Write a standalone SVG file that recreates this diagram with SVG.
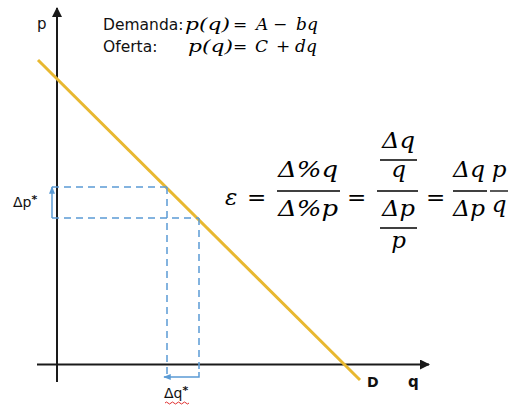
<svg xmlns="http://www.w3.org/2000/svg" width="517" height="408" viewBox="0 0 517 408">
<style>
.axis{stroke:#1a1a1a;stroke-width:2;fill:none}
.dash{stroke:#5b9bd5;stroke-width:1.5;stroke-dasharray:7 5;fill:none}
.blue{stroke:#5b9bd5;stroke-width:1.5;fill:none}
.lab{font-family:"DejaVu Sans",sans-serif;fill:#111}
.m{font-family:"DejaVu Serif","Liberation Serif",serif;font-style:italic;fill:#000}
.op{font-family:"DejaVu Serif","Liberation Serif",serif;fill:#000}
.bar{stroke:#000;stroke-width:1.3}
</style>
<defs>
<marker id="ah" viewBox="0 0 10 10" refX="9" refY="5" markerWidth="5" markerHeight="5" orient="auto"><path d="M0,0 L10,5 L0,10 z" fill="#1a1a1a"/></marker>
<marker id="bh" viewBox="0 0 10 10" refX="9" refY="5" markerWidth="5" markerHeight="5" orient="auto"><path d="M0,1 L10,5 L0,9 z" fill="#5b9bd5"/></marker>
</defs>
<rect width="517" height="408" fill="#fff"/>
<g id="axes">
<line class="axis" x1="57" y1="382" x2="57" y2="8" marker-end="url(#ah)"/>
<line class="axis" x1="37" y1="364.5" x2="429" y2="364.5" marker-end="url(#ah)"/>
<text class="lab" x="37" y="29" font-size="15">p</text>
<text class="lab" x="408" y="387" font-size="15" font-weight="bold">q</text>
</g>
<g id="demand">
<line x1="38" y1="60" x2="360" y2="380" stroke="#e8b830" stroke-width="3"/>
<text class="lab" x="367" y="387" font-size="14" font-weight="bold">D</text>
</g>
<g id="connectors">
<line class="dash" x1="52" y1="187" x2="167" y2="187"/>
<line class="dash" x1="52" y1="218" x2="199" y2="218"/>
<line class="dash" x1="167" y1="187" x2="167" y2="376"/>
<line class="dash" x1="199" y1="218" x2="199" y2="372"/>
<path class="blue" d="M199,372 L199,377 L164,377" marker-end="url(#bh)"/>
<line class="blue" x1="52" y1="218" x2="52" y2="187" marker-end="url(#bh)"/>
</g>
<g id="dp-label">
<text class="lab" x="13" y="207" font-size="14">Δp<tspan font-size="11" font-weight="bold" dy="-4">*</tspan></text>
</g>
<g id="dq-label">
<text class="lab" x="164" y="398" font-size="14">Δq<tspan font-size="11" font-weight="bold" dy="-4">*</tspan></text>
<path d="M165,403 q1.5,-2 3,0 t3,0 t3,0 t3,0 t3,0 t3,0 t3,0 t3,0" stroke="#e03030" stroke-width="1" fill="none"/>
</g>
<g id="equations">
<text class="lab" x="103" y="30" font-size="15.5">Demanda:</text>
<text class="m" x="185" y="30" font-size="17" textLength="45" lengthAdjust="spacingAndGlyphs">p(q)</text>
<text class="op" x="233" y="30" font-size="17">=</text>
<text class="m" x="256" y="30" font-size="17">A</text>
<text class="op" x="273" y="30" font-size="17">−</text>
<text class="m" x="296" y="30" font-size="17">bq</text>
<text class="lab" x="103" y="52" font-size="15.5">Oferta:</text>
<text class="m" x="188" y="52" font-size="17" textLength="45" lengthAdjust="spacingAndGlyphs">p(q)</text>
<text class="op" x="233" y="52" font-size="17">=</text>
<text class="m" x="255" y="52" font-size="17">C</text>
<text class="op" x="276" y="52" font-size="17">+</text>
<text class="m" x="295" y="52" font-size="17">dq</text>
</g>
<g id="elasticity">
<text class="m" x="225" y="205" font-size="23">ε</text>
<text class="op" x="247" y="205" font-size="23">=</text>
<text class="m" x="278" y="177" font-size="23" textLength="60" lengthAdjust="spacingAndGlyphs">Δ%q</text>
<line class="bar" x1="277" y1="191" x2="340" y2="191"/>
<text class="m" x="278" y="216" font-size="23" textLength="60" lengthAdjust="spacingAndGlyphs">Δ%p</text>
<text class="op" x="347" y="205" font-size="23">=</text>
<text class="m" x="382" y="148" font-size="23" textLength="33" lengthAdjust="spacingAndGlyphs">Δq</text>
<line class="bar" x1="380" y1="160" x2="417" y2="160"/>
<text class="m" x="398.5" y="177" font-size="23" text-anchor="middle">q</text>
<line class="bar" x1="377" y1="191" x2="418" y2="191"/>
<text class="m" x="382" y="216" font-size="23" textLength="33" lengthAdjust="spacingAndGlyphs">Δp</text>
<line class="bar" x1="380" y1="228" x2="417" y2="228"/>
<text class="m" x="398.5" y="248" font-size="23" text-anchor="middle">p</text>
<text class="op" x="426" y="205" font-size="23">=</text>
<text class="m" x="453" y="177" font-size="23" textLength="32" lengthAdjust="spacingAndGlyphs">Δq</text>
<line class="bar" x1="453" y1="191" x2="487" y2="191"/>
<text class="m" x="453" y="216" font-size="23" textLength="32" lengthAdjust="spacingAndGlyphs">Δp</text>
<text class="m" x="499" y="177" font-size="23" text-anchor="middle">p</text>
<line class="bar" x1="490" y1="191" x2="508" y2="191"/>
<text class="m" x="499" y="212" font-size="23" text-anchor="middle">q</text>
</g>
</svg>
